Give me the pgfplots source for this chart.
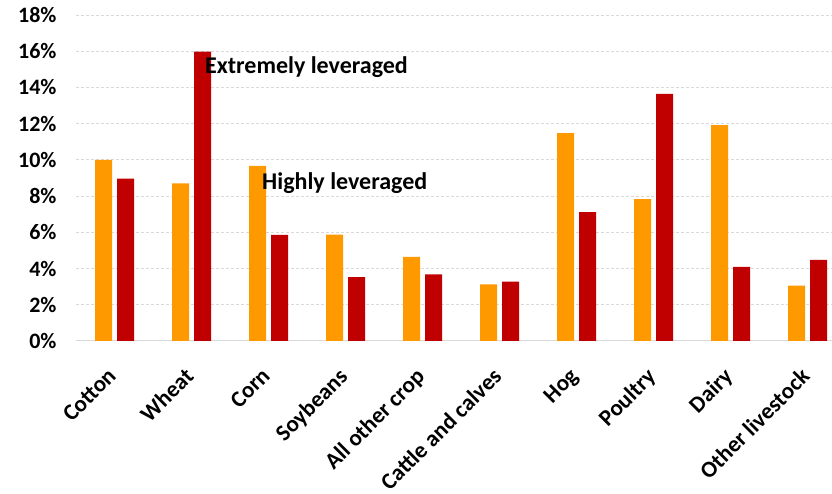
\documentclass[border=0pt]{standalone}
\usepackage{pgfplots}
\pgfplotsset{compat=1.18}
\usepackage{fontspec}
\setmainfont{Carlito}
\definecolor{corange}{HTML}{FF9900}
\definecolor{cred}{HTML}{C00000}
\definecolor{cgrid}{HTML}{D9D9D9}
\begin{document}
\begin{tikzpicture}
\begin{axis}[
  at={(0,0)}, anchor=south west,
  scale only axis,
  width=756pt, height=326pt,
  xmin=-0.5, xmax=9.318,
  ymin=0, ymax=18,
  ybar=5pt, bar width=17pt,
  xtick={0,1,2,3,4,5,6,7,8,9},
  xticklabels={Cotton,Wheat,Corn,Soybeans,All other crop,Cattle and calves,Hog,Poultry,Dairy,Other livestock},
  xticklabel style={yshift=-25.5pt, xshift=-8pt, rotate=45, anchor=north east, inner sep=0pt, font=\fontsize{23}{25}\selectfont\bfseries},
  ytick={2,4,...,18},
  yticklabel={\pgfmathprintnumber{\tick}\%},
  yticklabel style={font=\fontsize{22}{24}\selectfont\bfseries, xshift=-16pt},
  extra y ticks={0},
  extra y tick labels={0\%},
  extra y tick style={grid style={solid, draw=cgrid, line width=1pt}},
  /pgf/number format/assume math mode=true,
  ymajorgrids,
  grid style={densely dashed, draw=cgrid, line width=0.8pt},
  axis line style={draw=none},
  major tick length=0pt,
  tick style={draw=none},
  clip=false,
]
\addplot[fill=corange, draw=none] coordinates {
  (0,10.0) (1,8.7) (2,9.67) (3,5.87) (4,4.64) (5,3.13) (6,11.48) (7,7.83) (8,11.92) (9,3.06)};
\addplot[fill=cred, draw=none] coordinates {
  (0,8.97) (1,15.98) (2,5.86) (3,3.52) (4,3.68) (5,3.28) (6,7.11) (7,13.65) (8,4.09) (9,4.48)};
\node[anchor=west, inner sep=0pt, font=\fontsize{24}{26}\selectfont\bfseries] at (axis cs:1.175,15.1) {Extremely leveraged};
\node[anchor=west, inner sep=0pt, font=\fontsize{24}{26}\selectfont\bfseries] at (axis cs:1.916,8.7) {Highly leveraged};
\end{axis}
\pgfresetboundingbox
\useasboundingbox (-76pt,-153pt) rectangle (756pt,341pt);
\end{tikzpicture}
\end{document}
